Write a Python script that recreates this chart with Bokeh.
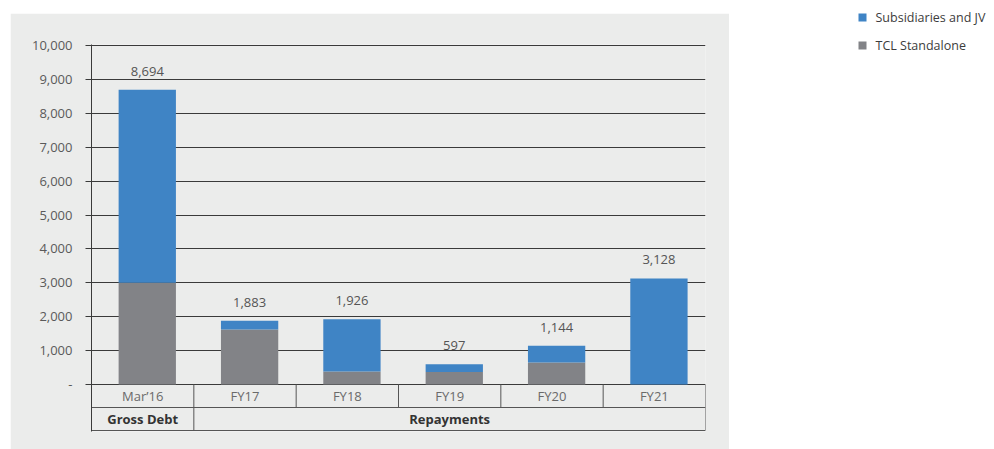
from bokeh.plotting import figure
from bokeh.models import (FactorRange, Range1d, FixedTicker, NumeralTickFormatter,
                          Spacer, ColumnDataSource)
from bokeh.layouts import row, column
from bokeh.core.properties import value
from bokeh.transform import dodge
from bokeh.embed import file_html
from bokeh.resources import INLINE

# ---- data ----
categories = ["Mar\u201916", "FY17", "FY18", "FY19", "FY20", "FY21"]
groups = ["Gross Debt", "Repayments", "Repayments", "Repayments", "Repayments", "Repayments"]
tcl_standalone = [3000, 1620, 380, 370, 650, 0]
subsidiaries_jv = [5694, 263, 1546, 227, 494, 3128]
series_names = ["Subsidiaries and JV", "TCL Standalone"]
series_colors = ["#3f84c5", "#828387"]
y_ticks = [0, 1000, 2000, 3000, 4000, 5000, 6000, 7000, 8000, 9000, 10000]
y_tick_labels = ["-", "1,000", "2,000", "3,000", "4,000", "5,000", "6,000",
                 "7,000", "8,000", "9,000", "10,000"]

FONT = "Open Sans"
BG = "#ebeceb"

totals = [a + b for a, b in zip(tcl_standalone, subsidiaries_jv)]
total_labels = ["{:,}".format(t) for t in totals]

# pixel helpers (frame: 339 px for 10,000)
s = 10000 / 339.0
row_h = 23

PW, PH = 719, 436
p = figure(x_range=FactorRange(factors=categories, range_padding=0),
           y_range=Range1d(-47 * s, 10000 + s),
           width=PW, height=PH, output_backend="svg", toolbar_location=None,
           min_border_left=81, min_border_right=24, min_border_top=31,
           min_border_bottom=18)
p.background_fill_color = BG
p.border_fill_color = BG
p.outline_line_color = None
p.xaxis.visible = False
p.xgrid.grid_line_color = None

yax = p.yaxis[0]
yax.ticker = FixedTicker(ticks=y_ticks)
yax.formatter = NumeralTickFormatter(format="0,0")
yax.major_label_overrides = {t: l for t, l in zip(y_ticks, y_tick_labels)}
yax.major_tick_out = 6
yax.major_tick_in = 0
yax.minor_tick_line_color = None
yax.axis_line_color = "#3a3a3a"
yax.major_tick_line_color = "#3a3a3a"
yax.major_label_standoff = 13
yax.major_label_text_font = FONT
yax.major_label_text_font_size = "13px"
yax.major_label_text_color = "#5a5a5a"
p.ygrid.ticker = FixedTicker(ticks=y_ticks)
p.ygrid.grid_line_color = "#3a3a3a"
p.ygrid.grid_line_width = 1

src = ColumnDataSource(dict(x=categories, sa=tcl_standalone,
                            top=totals, lab=total_labels))
xd = dodge("x", 0.045, range=p.x_range)
p.vbar(x=xd, bottom=0, top="sa", width=0.56, source=src,
       fill_color=series_colors[1], line_color=None)
p.vbar(x=xd, bottom="sa", top="top", width=0.56, source=src,
       fill_color=series_colors[0], line_color=None)
p.text(x=xd, y="top", text="lab", source=src, text_align="center",
       text_baseline="bottom", y_offset=-14, text_font=value(FONT),
       text_font_size="13px", text_color="#555555")

# ---- table under the axis ----
n = len(categories)
y1 = -row_h * s
y2 = -2 * row_h * s
line_col = "#555555"
p.segment(x0=[0, 0], x1=[n, n], y0=[y1, y2], y1=[y1, y2],
          line_color=line_col, line_width=1)
bx, by = [], []
for k in range(n + 1):
    bx.append(k)
    if k == 0 or k == n or groups[k - 1] != groups[k]:
        by.append(y2)
    else:
        by.append(y1)
p.segment(x0=bx, x1=bx, y0=[0] * len(bx), y1=by, line_color=line_col, line_width=1)

p.text(x=categories, y=[y1 / 2] * n, text=categories, text_align="center",
       text_baseline="middle", text_font=value(FONT), text_font_size="13px",
       text_color="#6a6a6a")

gnames, gcent = [], []
start = 0
for k in range(1, n + 1):
    if k == n or groups[k] != groups[start]:
        gnames.append(groups[start])
        gcent.append((start + k) / 2.0)
        start = k
p.text(x=gcent, y=[(y1 + y2) / 2] * len(gcent), text=gnames, text_align="center",
       text_baseline="middle", text_font=value(FONT), text_font_size="13px",
       text_font_style="bold", text_color="#333333")

# ---- legend figure ----
LW, LH = 265, 60
lg = figure(x_range=Range1d(0, LW), y_range=Range1d(LH, 0), width=LW, height=LH,
            output_backend="svg", toolbar_location=None, min_border=0)
lg.axis.visible = False
lg.grid.visible = False
lg.outline_line_color = None
lg.border_fill_color = "white"
lg.background_fill_color = "white"
ly = [17, 45]
lg.rect(x=[133, 133], y=ly, width=8, height=8, fill_color=series_colors,
        line_color=None)
lg.text(x=[146, 146], y=ly, text=series_names, text_baseline="middle",
        text_font=value(FONT), text_font_size="12.5px", text_color="#3c3c3c")

layout = row(Spacer(width=10, height=10), column(Spacer(width=10, height=13), p), lg)

open("out.html", "w").write(file_html(layout, INLINE))
